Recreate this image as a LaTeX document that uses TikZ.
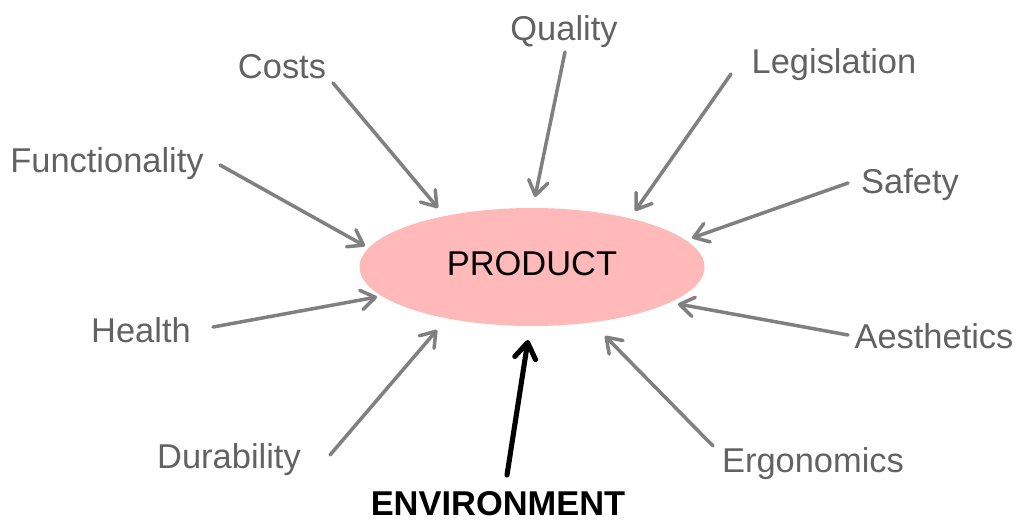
\documentclass[tikz,border=0pt]{standalone}
\usepackage{fontspec}
\setmainfont{Liberation Sans}
\usetikzlibrary{arrows.meta,shapes.geometric}

\definecolor{labelgray}{RGB}{98,98,98}
\definecolor{arrowgray}{RGB}{128,128,128}
\definecolor{productpink}{RGB}{255,185,185}

\begin{document}
\begin{tikzpicture}[x=0.02cm,y=-0.02cm]
\tikzstyle{every node}+=[inner sep=0pt]
\tikzstyle{factor}=[text=labelgray,font=\fontsize{19.6}{23}\selectfont]
\tikzstyle{feed}=[draw=arrowgray,line width=2pt,line cap=round,
  -{Straight Barb[length=8pt,width=11pt,line width=2pt,round]}]
\useasboundingbox (0,0) rectangle (1017,523);
% the product in the middle
\node [ellipse,fill=productpink,minimum width=345*0.02cm,minimum height=118*0.02cm]
  (product) at (532,267) {};
\node [font=\fontsize{19.6}{23}\selectfont] (productlabel) at (532,264) {PRODUCT};
% factors around it
\node [factor] (quality) at (564,32) {Quality};
\node [factor] (costs) at (282,67) {Costs};
\node [factor] (legislation) at (834,65) {Legislation};
\node [factor] (functionality) at (107,164) {Functionality};
\node [factor] (safety) at (910,185) {Safety};
\node [factor] (health) at (141,330) {Health};
\node [factor] (aesthetics) at (934,336) {Aesthetics};
\node [factor] (durability) at (229,460) {Durability};
\node [factor] (ergonomics) at (813,464) {Ergonomics};
\node [font=\bfseries\fontsize{19.6}{23}\selectfont] (environment) at (498,504) {ENVIRONMENT};
% arrow ends
\coordinate (costs-a) at (333,83);          \coordinate (costs-b) at (438,208);
\coordinate (quality-a) at (565,52);        \coordinate (quality-b) at (535,197);
\coordinate (legislation-a) at (731,74);    \coordinate (legislation-b) at (635,211);
\coordinate (functionality-a) at (220,165); \coordinate (functionality-b) at (365,246);
\coordinate (safety-a) at (848,183);        \coordinate (safety-b) at (692,238);
\coordinate (health-a) at (213,327);        \coordinate (health-b) at (377,297);
\coordinate (aesthetics-a) at (848,335);    \coordinate (aesthetics-b) at (678,304);
\coordinate (durability-a) at (330,455);    \coordinate (durability-b) at (437,330);
\coordinate (ergonomics-a) at (713,446);    \coordinate (ergonomics-b) at (605,336);
\coordinate (environment-a) at (507,475);   \coordinate (environment-b) at (528,340);
\foreach \f in {costs,quality,legislation,functionality,safety,health,aesthetics,durability,ergonomics}
  \draw [feed] (\f-a) -- (\f-b);
\draw [line width=2.9pt,line cap=round,
  -{Straight Barb[length=9pt,width=12pt,line width=2.9pt,round]}]
  (environment-a) -- (environment-b);
\end{tikzpicture}
\end{document}
